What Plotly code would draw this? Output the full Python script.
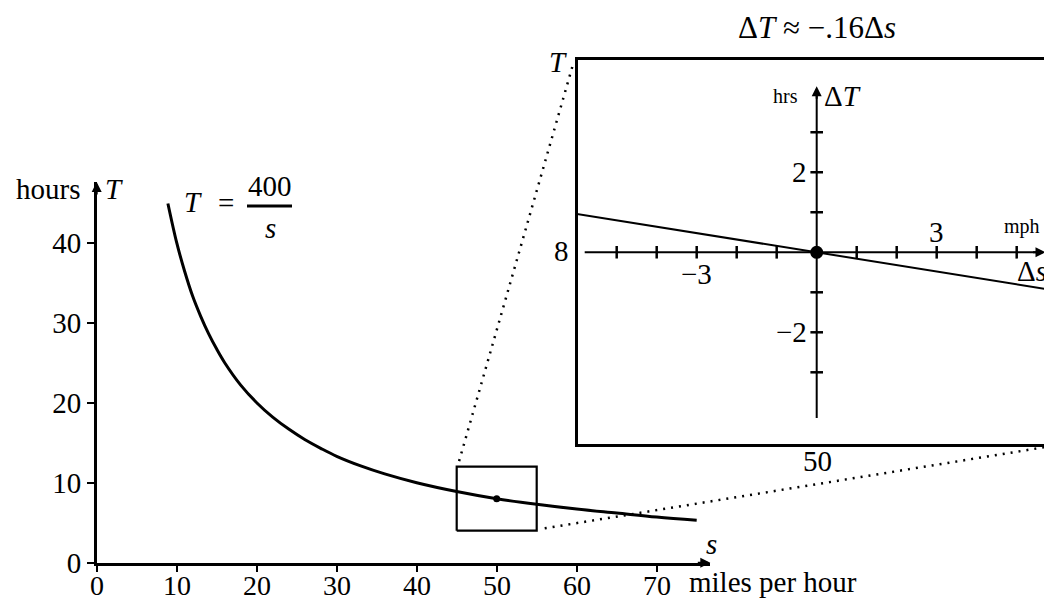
import plotly.graph_objects as go

# ---------------- data ----------------
speed = [8.9, 10, 11, 12, 13, 14, 15, 16, 18, 20, 22, 24, 26, 28, 30, 33, 36, 40, 45, 50, 55, 60, 65, 70, 75]
hours = [44.9, 40, 36.4, 33.3, 30.8, 28.6, 26.7, 25, 22.2, 20, 18.2, 16.7, 15.4, 14.3, 13.3, 12.1, 11.1, 10, 8.9, 8, 7.3, 6.7, 6.2, 5.7, 5.3]
x_ticks = [0, 10, 20, 30, 40, 50, 60, 70]
y_ticks = [0, 10, 20, 30, 40]
point_s, point_T = 50, 8
zoom_box_s = [45, 55]
zoom_box_T = [4, 12]

# local linear approximation (inset)
ds_line = [-6, 6]
dT_line = [0.96, -0.96]
ds_ticks = [-5, -4, -3, -2, -1, 1, 2, 3, 4, 5]
dT_ticks = [-3, -2, -1, 1, 2, 3]
ds_labels = {-3: "\u22123", 3: "3"}
dT_labels = {2: "2", -2: "\u22122"}

# ---------------- layout geometry (screen pixels) ----------------
SCREEN_W, SCREEN_H = 1052, 601
OFF = 8                      # page body margin
W, H = SCREEN_W - OFF, SCREEN_H - OFF
FONT = "Liberation Serif"
FS = 29
FS_TICK = 28
FS_SMALL = 20

# main axes: origin pixel and px-per-unit
M_X0, M_Y0, M_K = 96.7, 562.7, 8.0
M_XMAX, M_YMAX = 76.7, 47.6
# inset axes: origin pixel and px-per-unit
I_X0, I_Y0, I_K = 816.7, 252.3, 40.0
I_LEFT, I_RIGHT, I_TOP, I_BOTTOM = 577.7, 1052.0, 60.0, 444.0


def px(xpix):
    return (xpix - OFF) / W


def py(ypix):
    return 1 - (ypix - OFF) / H


def main_to_paper(s, T):
    return px(M_X0 + M_K * s), py(M_Y0 - M_K * T)


fig = go.Figure()

# main curve
fig.add_trace(go.Scatter(x=speed, y=hours, mode="lines", line=dict(color="black", width=3, shape="spline"),
                         xaxis="x", yaxis="y", hoverinfo="skip"))
# zoom box
bx = [zoom_box_s[0], zoom_box_s[1], zoom_box_s[1], zoom_box_s[0], zoom_box_s[0]]
by = [zoom_box_T[0], zoom_box_T[0], zoom_box_T[1], zoom_box_T[1], zoom_box_T[0]]
fig.add_trace(go.Scatter(x=bx, y=by, mode="lines", line=dict(color="black", width=2.2),
                         xaxis="x", yaxis="y", hoverinfo="skip"))
# point
fig.add_trace(go.Scatter(x=[point_s], y=[point_T], mode="markers", marker=dict(color="black", size=7),
                         xaxis="x", yaxis="y", hoverinfo="skip"))

# inset: tangent line
fig.add_trace(go.Scatter(x=ds_line, y=dT_line, mode="lines", line=dict(color="black", width=2),
                         xaxis="x2", yaxis="y2", hoverinfo="skip"))
# inset axes lines
ds_axis_lo, ds_axis_hi = -5.8, 5.72
dT_axis_lo, dT_axis_hi = -4.14, 4.15
fig.add_trace(go.Scatter(x=[ds_axis_lo, ds_axis_hi - 0.2], y=[0, 0], mode="lines",
                         line=dict(color="black", width=2), xaxis="x2", yaxis="y2", hoverinfo="skip"))
fig.add_trace(go.Scatter(x=[0, 0], y=[dT_axis_lo, dT_axis_hi - 0.2], mode="lines",
                         line=dict(color="black", width=2), xaxis="x2", yaxis="y2", hoverinfo="skip"))
# inset tick marks
fig.add_trace(go.Scatter(x=ds_ticks, y=[0] * len(ds_ticks), mode="markers",
                         marker=dict(symbol="line-ns", size=9, line=dict(color="black", width=2.5)),
                         xaxis="x2", yaxis="y2", hoverinfo="skip"))
fig.add_trace(go.Scatter(x=[0] * len(dT_ticks), y=dT_ticks, mode="markers",
                         marker=dict(symbol="line-ew", size=9, line=dict(color="black", width=2.5)),
                         xaxis="x2", yaxis="y2", hoverinfo="skip"))
# inset point
fig.add_trace(go.Scatter(x=[0], y=[0], mode="markers", marker=dict(color="black", size=13),
                         xaxis="x2", yaxis="y2", hoverinfo="skip"))

annotations = []


def text(x, y, t, xref="paper", yref="paper", size=FS, xanchor="center", yanchor="middle"):
    annotations.append(dict(x=x, y=y, xref=xref, yref=yref, text=t, showarrow=False,
                            font=dict(family=FONT, size=size, color="black"),
                            xanchor=xanchor, yanchor=yanchor))


def arrow(x, y, ax, ay, xref, yref):
    annotations.append(dict(x=x, y=y, xref=xref, yref=yref, text="", showarrow=True, ax=ax, ay=ay,
                            arrowhead=2, arrowsize=1, arrowwidth=2, arrowcolor="black", standoff=0))


# main axes arrows
arrow(M_XMAX, 0, -14, 0, "x", "y")
arrow(0, M_YMAX, 0, 14, "x", "y")
# inset axes arrows
arrow(ds_axis_hi, 0, -14, 0, "x2", "y2")
arrow(0, dT_axis_hi, 0, 14, "x2", "y2")

# x tick labels (placed on the x axis scale, just below the axis)
for v in x_ticks:
    annotations.append(dict(x=v, y=py(585), xref="x", yref="paper", text=str(v), showarrow=False,
                            font=dict(family=FONT, size=FS_TICK, color="black"),
                            xanchor="center", yanchor="middle"))

# main labels
text(px(82), py(189), "hours", xanchor="right")
text(px(103), py(189), "<i>T</i>", xanchor="left")
text(px(711), py(544), "<i>s</i>")
text(px(687), py(582), "miles per hour", xanchor="left")
# formula T = 400 / s
text(px(193), py(202), "<i>T</i>")
text(px(226), py(203), "=")
text(px(270), py(186), "400")
text(px(270), py(228), "<i>s</i>")

# inset labels
text(px(817), py(28), "\u0394<i>T</i> \u2248 \u2212.16\u0394<i>s</i>", size=31)
for v, t in ds_labels.items():
    yy = -0.55 if v < 0 else 0.5
    text(v, yy, t, xref="x2", yref="y2")
for v, t in dT_labels.items():
    text(-0.2, v, t, xref="x2", yref="y2", xanchor="right")
text(-0.42, 3.9, "hrs", xref="x2", yref="y2", size=FS_SMALL, xanchor="right")
text(0.12, 3.92, "\u0394<i>T</i>", xref="x2", yref="y2", xanchor="left")
text(5.13, 0.64, "mph", xref="x2", yref="y2", size=FS_SMALL)
text(5.38, -0.46, "\u0394<i>s</i>", xref="x2", yref="y2")
# original coordinate labels around the inset
text(px(569), py(62), "<i>T</i>", xanchor="right")
text(px(571), py(251), "8", xanchor="right")
text(px(817), py(461), "50")

shapes = []
# fraction bar
shapes.append(dict(type="line", xref="paper", yref="paper", x0=px(247), x1=px(292), y0=py(206), y1=py(206),
                   line=dict(color="black", width=3)))
# dotted connectors from zoom box to inset corners
c1a = main_to_paper(zoom_box_s[0] + 0.3, zoom_box_T[1] + 0.7)
c1b = (px(I_LEFT - 4), py(I_TOP + 2))
c2a = main_to_paper(zoom_box_s[1] + 1.0, zoom_box_T[0] + 0.3)
c2b = (px(I_RIGHT), py(I_BOTTOM + 2))
for a, b in [(c1a, c1b), (c2a, c2b)]:
    shapes.append(dict(type="line", xref="paper", yref="paper", x0=a[0], y0=a[1], x1=b[0], y1=b[1],
                       line=dict(color="black", width=2.5, dash="2px,6px")))

axis_font = dict(family=FONT, size=FS, color="black")
fig.update_layout(
    template="none",
    width=W, height=H, autosize=False,
    margin=dict(l=0, r=0, t=0, b=0, pad=0, autoexpand=False),
    paper_bgcolor="white", plot_bgcolor="rgba(0,0,0,0)",
    font=dict(family=FONT, size=FS, color="black"),
    showlegend=False,
    xaxis=dict(domain=[px(M_X0), px(M_X0 + M_K * M_XMAX)], range=[0, M_XMAX], automargin=False,
               showgrid=False, zeroline=False, showline=True, linecolor="black", linewidth=2.5,
               ticks="outside", ticklen=7, tickwidth=2, tickcolor="black", tickvals=x_ticks,
               showticklabels=False, anchor="y", fixedrange=True),
    yaxis=dict(domain=[py(M_Y0), py(M_Y0 - M_K * M_YMAX)], range=[0, M_YMAX], automargin=False,
               showgrid=False, zeroline=False, showline=True, linecolor="black", linewidth=2.5,
               ticks="outside", ticklen=7, tickwidth=2, tickcolor="black", tickvals=y_ticks,
               tickfont=axis_font, anchor="x", fixedrange=True),
    xaxis2=dict(domain=[px(I_LEFT), px(I_RIGHT)], automargin=False,
                range=[(I_LEFT - I_X0) / I_K, (I_RIGHT - I_X0) / I_K],
                showgrid=False, zeroline=False, showline=True, mirror=True, linecolor="black", linewidth=3,
                showticklabels=False, ticks="", anchor="y2", fixedrange=True),
    yaxis2=dict(domain=[py(I_BOTTOM), py(I_TOP)], automargin=False,
                range=[(I_Y0 - I_BOTTOM) / I_K, (I_Y0 - I_TOP) / I_K],
                showgrid=False, zeroline=False, showline=True, mirror=False, linecolor="black", linewidth=3,
                showticklabels=False, ticks="", anchor="x2", fixedrange=True),
    annotations=annotations,
    shapes=shapes,
)

fig.write_html("out.html", config={"displayModeBar": False})
